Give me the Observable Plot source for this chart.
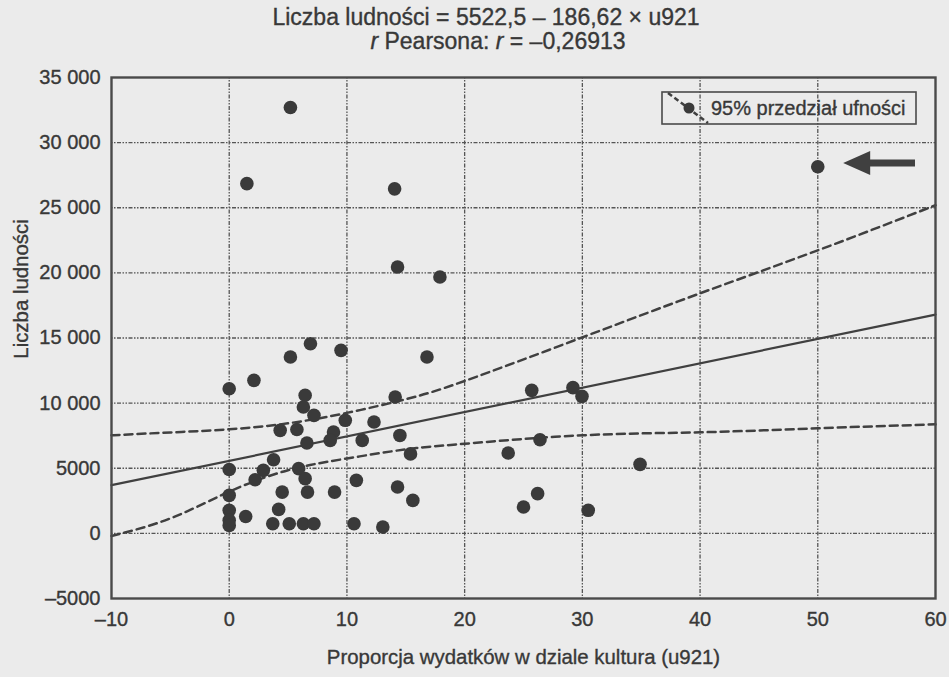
<!DOCTYPE html>
<html><head><meta charset="utf-8">
<script src="https://cdn.jsdelivr.net/npm/d3@7"></script>
<script src="https://cdn.jsdelivr.net/npm/@observablehq/plot@0.6"></script>
<style>
html,body{margin:0;padding:0;background:#ebebeb;}
#chart svg text{stroke:#383838;stroke-width:0.35px;}
</style></head><body><div id="chart"></div>
<script>
// ---- data ----
const ptX = [5.2, 1.5, 14.05, 50.0, 14.3, 17.9, 6.9, 5.2, 9.5, 16.8, 2.1, 0.0, 6.45, 6.3, 7.2, 14.1, 9.86, 12.3, 4.33, 5.75, 8.86, 8.58, 6.6, 11.3, 14.5, 15.4, 3.77, 2.9, 2.2, 0.0, 0.0, 5.9, 6.45, 4.5, 6.65, 8.95, 10.8, 14.3, 0.0, 1.4, 4.2, 0.0, 0.0, 3.7, 5.1, 6.3, 7.2, 10.6, 13.05, 15.6, 23.7, 26.4, 25.7, 29.2, 29.97, 26.2, 25.0, 30.5, 34.9];
const ptY = [32700, 26850, 26450, 28150, 20450, 19680, 14560, 13540, 14050, 13540, 11750, 11100, 10600, 9700, 9060, 10470, 8680, 8550, 7910, 7980, 7780, 7140, 6940, 7140, 7520, 6100, 5650, 4840, 4120, 4900, 2920, 4970, 4200, 3170, 3170, 3170, 4070, 3560, 1770, 1300, 1840, 1000, 600, 740, 740, 740, 740, 740, 490, 2530, 6170, 7190, 10980, 11190, 10520, 3050, 2020, 1770, 5300];

const regX = [-10, 60];
const regY = [3700, 16800];

const bandX     = [-10, -5, 0, 5, 10, 15, 20, 30, 40, 50, 60];
const bandUpper = [7530, 7750, 7990, 8450, 9250, 10300, 11700, 15050, 18430, 21730, 25190];
const bandLower = [-200, 1150, 3200, 4850, 5750, 6450, 6880, 7530, 7760, 8070, 8370];

const xTicks = [-10, 0, 10, 20, 30, 40, 50, 60];
const xTickLabels = ["–10", "0", "10", "20", "30", "40", "50", "60"];
const yTicks = [-5000, 0, 5000, 10000, 15000, 20000, 25000, 30000, 35000];
const yTickLabels = ["–5000", "0", "5000", "10 000", "15 000", "20 000", "25 000", "30 000", "35 000"];

const titleLine1 = "Liczba ludności = 5522,5 – 186,62 × u921";
const titleLine2Parts = [["r", true], [" Pearsona: ", false], ["r", true], [" = –0,26913", false]];
const xLabel = "Proporcja wydatków w dziale kultura (u921)";
const yLabel = "Liczba ludności";
const legendLabel = "95% przedział ufności";
const arrowTip = [52.2, 28400];
const arrowTail = [58.3, 28400];

// ---- tables ----
const points = ptX.map((x, i) => ({x, y: ptY[i]}));
const reg = regX.map((x, i) => ({x, y: regY[i]}));
const upper = bandX.map((x, i) => ({x, y: bandUpper[i]}));
const lower = bandX.map((x, i) => ({x, y: bandLower[i]}));

const ink = "#383838";
const font = "'Liberation Sans', Arial, sans-serif";
const gridStyle = {stroke: "#555", strokeWidth: 1.3, strokeDasharray: "1.5,1.5,1.5,1.5,4,1.5"};

const plot = Plot.plot({
  width: 949, height: 677,
  marginLeft: 111, marginRight: 14, marginTop: 77, marginBottom: 79,
  style: {background: "#ebebeb", fontFamily: font, fontSize: "20px", color: ink},
  x: {domain: [-10, 60], ticks: xTicks, tickFormat: d => xTickLabels[xTicks.indexOf(d)], tickSize: 0, tickPadding: 13, label: null},
  y: {domain: [-5000, 35000], ticks: yTicks, tickFormat: d => yTickLabels[yTicks.indexOf(d)], tickSize: 0, tickPadding: 11, label: null},
  marks: [
    Plot.ruleX(xTicks.slice(1, -1), {...gridStyle}),
    Plot.ruleY(yTicks.slice(1, -1), {...gridStyle}),
    Plot.line(upper, {x: "x", y: "y", curve: "natural", stroke: "#404040", strokeWidth: 2.5, strokeDasharray: "8,5"}),
    Plot.line(lower, {x: "x", y: "y", curve: "natural", stroke: "#404040", strokeWidth: 2.5, strokeDasharray: "8,5"}),
    Plot.line(reg, {x: "x", y: "y", stroke: "#404040", strokeWidth: 2.2}),
    Plot.dot(points, {x: "x", y: "y", r: 6.8, fill: "#3a3a3a", stroke: "none"}),
    Plot.frame({stroke: "#4a4a4a", strokeWidth: 2.4}),
    Plot.text([xLabel], {frameAnchor: "bottom", dy: 65, fontSize: 20.4, fill: ink}),
    Plot.text([yLabel], {frameAnchor: "left", rotate: -90, textAnchor: "middle", dx: -90, dy: -49, fontSize: 20.4, fill: ink})
  ]
});

document.getElementById("chart").appendChild(plot);

const svg = d3.select(plot);
const sx = plot.scale("x").apply, sy = plot.scale("y").apply;
const g = svg.append("g").attr("font-family", font).attr("fill", ink);

// title
g.append("text").attr("x", 486).attr("y", 25).attr("text-anchor", "middle").attr("font-size", 23)
  .text(titleLine1);
const t2 = g.append("text").attr("x", 498).attr("y", 49).attr("text-anchor", "middle").attr("font-size", 23);
titleLine2Parts.forEach(([s, it]) => t2.append("tspan").attr("font-style", it ? "italic" : "normal").text(s));

// legend
g.append("rect").attr("x", 662).attr("y", 92).attr("width", 254).attr("height", 32)
  .attr("fill", "none").attr("stroke", "#4a4a4a").attr("stroke-width", 1.6);
g.append("line").attr("x1", 668).attr("y1", 93).attr("x2", 708).attr("y2", 123)
  .attr("stroke", "#404040").attr("stroke-width", 2.5).attr("stroke-dasharray", "5,3");
g.append("circle").attr("cx", 689).attr("cy", 108).attr("r", 5.5).attr("fill", "#3a3a3a");
g.append("text").attr("x", 711).attr("y", 115).attr("text-anchor", "start").attr("font-size", 20)
  .text(legendLabel);

// arrow pointing at the outlier
const tx = sx(arrowTip[0]), ty = sy(arrowTip[1]), ex = sx(arrowTail[0]);
g.append("path")
  .attr("d", `M${tx},${ty} L${tx + 27},${ty - 12} L${tx + 27},${ty - 3.5} L${ex},${ty - 3.5} L${ex},${ty + 3.5} L${tx + 27},${ty + 3.5} L${tx + 27},${ty + 12} Z`)
  .attr("fill", "#404040");
</script></body></html>
